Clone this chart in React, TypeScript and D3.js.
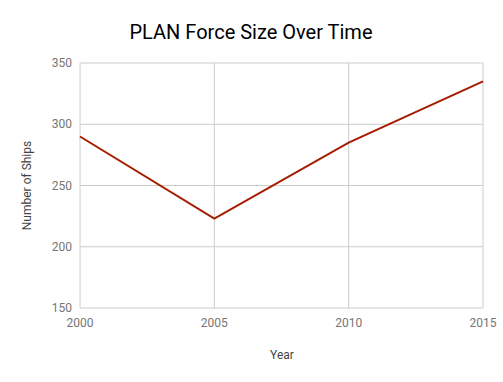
import React from "react";
import * as d3 from "d3";

const years = [2000, 2005, 2010, 2015];
const ships = [290, 223, 285, 335];
const yTicks = [150, 200, 250, 300, 350];
const xTicks = [2000, 2005, 2010, 2015];

export default function App() {
  const W = 503, H = 382;
  const left = 80, right = 483, top = 63, bottom = 308;
  const x = d3.scaleLinear().domain([2000, 2015]).range([left, right]);
  const y = d3.scaleLinear().domain([150, 350]).range([bottom, top]);
  const line = d3.line<number>().x((_, i) => x(years[i])).y((d) => y(d));
  const font = "Roboto, 'Noto Sans', sans-serif";
  return (
    <svg width={W} height={H} style={{ position: "absolute", left: 0, top: 0, background: "#fff" }} fontFamily={font}>
      <rect width={W} height={H} fill="#fff" />
      <text x={251} y={39} textAnchor="middle" fontSize={20} fill="#000">PLAN Force Size Over Time</text>
      {yTicks.map((t) => (
        <g key={"y" + t}>
          <line x1={left} x2={right} y1={y(t)} y2={y(t)} stroke="#cccccc" strokeWidth={1} />
          <text x={72} y={y(t) + 4} textAnchor="end" fontSize={12} fill="#757575">{t}</text>
        </g>
      ))}
      {xTicks.map((t) => (
        <g key={"x" + t}>
          <line x1={x(t)} x2={x(t)} y1={top} y2={bottom} stroke="#cccccc" strokeWidth={1} />
          <text x={x(t)} y={327} textAnchor="middle" fontSize={12} fill="#757575">{t}</text>
        </g>
      ))}
      <path d={line(ships) || ""} fill="none" stroke="#a61c00" strokeWidth={2} />
      <text x={282} y={359} textAnchor="middle" fontSize={12} fill="#444">Year</text>
      <text transform={`translate(31,${(top + bottom) / 2}) rotate(-90)`} textAnchor="middle" fontSize={12} fill="#444">Number of Ships</text>
    </svg>
  );
}
